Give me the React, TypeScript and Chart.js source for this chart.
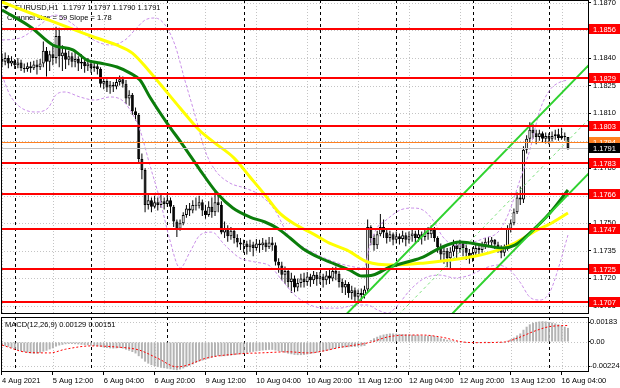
import React, { useEffect, useRef } from 'react';
import { Chart, registerables } from 'chart.js';
Chart.register(...registerables);

// ---------- DATA ----------
const firstOpen = 1.18395;
const closes = [
  1.18380, 1.18400, 1.18370, 1.18385, 1.18360, 1.18375, 1.18345, 1.18340, 1.18355, 1.18345,
  1.18365, 1.18350, 1.18370, 1.18440, 1.18380, 1.18420, 1.18400, 1.18520, 1.18410, 1.18430,
  1.18390, 1.18410, 1.18380, 1.18395, 1.18370, 1.18380, 1.18355, 1.18370, 1.18345, 1.18355,
  1.18340, 1.18260, 1.18275, 1.18240, 1.18255, 1.18245, 1.18270, 1.18285, 1.18260, 1.18180,
  1.18200, 1.18110, 1.18090, 1.17850, 1.17790, 1.17600, 1.17625, 1.17590, 1.17615, 1.17600,
  1.17620, 1.17605, 1.17625, 1.17590, 1.17510, 1.17470, 1.17500, 1.17545, 1.17580, 1.17570,
  1.17600, 1.17595, 1.17615, 1.17570, 1.17545, 1.17590, 1.17560, 1.17615, 1.17600, 1.17450,
  1.17470, 1.17430, 1.17460, 1.17420, 1.17395, 1.17385, 1.17390, 1.17370, 1.17385, 1.17365,
  1.17390, 1.17380, 1.17395, 1.17370, 1.17395, 1.17380, 1.17290, 1.17270, 1.17220, 1.17240,
  1.17180, 1.17200, 1.17150, 1.17175, 1.17200, 1.17180, 1.17210, 1.17190, 1.17220, 1.17195,
  1.17210, 1.17190, 1.17215, 1.17200, 1.17240, 1.17225, 1.17180, 1.17150, 1.17170, 1.17120,
  1.17135, 1.17100, 1.17120, 1.17110, 1.17140, 1.17480, 1.17420, 1.17380, 1.17440, 1.17480,
  1.17450, 1.17420, 1.17440, 1.17410, 1.17430, 1.17415, 1.17435, 1.17410, 1.17430, 1.17445,
  1.17420, 1.17440, 1.17425, 1.17450, 1.17440, 1.17465, 1.17420, 1.17370, 1.17330, 1.17350,
  1.17310, 1.17345, 1.17380, 1.17360, 1.17390, 1.17365, 1.17340, 1.17310, 1.17340, 1.17365,
  1.17355, 1.17380, 1.17400, 1.17395, 1.17410, 1.17385, 1.17370, 1.17340, 1.17365, 1.17470,
  1.17500, 1.17560, 1.17640, 1.17630, 1.17900, 1.17960, 1.18010, 1.17990, 1.17970, 1.17990,
  1.17960, 1.17975, 1.17960, 1.17975, 1.17985, 1.17965, 1.17975, 1.17970, 1.17910,
];
const highs = [
  1.18425, 1.18430, 1.18415, 1.18410, 1.18395, 1.18400, 1.18390, 1.18370, 1.18375, 1.18380,
  1.18385, 1.18390, 1.18395, 1.18490, 1.18460, 1.18440, 1.18470, 1.18570, 1.18565, 1.18470,
  1.18450, 1.18440, 1.18430, 1.18440, 1.18410, 1.18420, 1.18395, 1.18400, 1.18385, 1.18380,
  1.18370, 1.18350, 1.18295, 1.18285, 1.18275, 1.18270, 1.18290, 1.18305, 1.18300, 1.18280,
  1.18225, 1.18210, 1.18130, 1.18100, 1.17880, 1.17800, 1.17660, 1.17640, 1.17650, 1.17640,
  1.17655, 1.17640, 1.17660, 1.17640, 1.17600, 1.17520, 1.17520, 1.17560, 1.17600, 1.17610,
  1.17625, 1.17640, 1.17650, 1.17630, 1.17600, 1.17620, 1.17640, 1.17680, 1.17660, 1.17620,
  1.17510, 1.17490, 1.17480, 1.17470, 1.17440, 1.17420, 1.17410, 1.17405, 1.17410, 1.17400,
  1.17415, 1.17410, 1.17420, 1.17410, 1.17425, 1.17425, 1.17395, 1.17310, 1.17290, 1.17265,
  1.17255, 1.17230, 1.17215, 1.17200, 1.17225, 1.17230, 1.17235, 1.17225, 1.17240, 1.17235,
  1.17235, 1.17225, 1.17240, 1.17245, 1.17260, 1.17265, 1.17240, 1.17200, 1.17190, 1.17180,
  1.17160, 1.17150, 1.17140, 1.17145, 1.17160, 1.17520, 1.17490, 1.17440, 1.17460, 1.17550,
  1.17520, 1.17470, 1.17460, 1.17450, 1.17455, 1.17445, 1.17460, 1.17450, 1.17455, 1.17470,
  1.17460, 1.17465, 1.17455, 1.17470, 1.17480, 1.17490, 1.17480, 1.17430, 1.17390, 1.17380,
  1.17365, 1.17370, 1.17410, 1.17400, 1.17410, 1.17400, 1.17385, 1.17360, 1.17370, 1.17385,
  1.17390, 1.17400, 1.17420, 1.17425, 1.17425, 1.17415, 1.17400, 1.17380, 1.17385, 1.17490,
  1.17520, 1.17580, 1.17670, 1.17700, 1.17920, 1.17980, 1.18050, 1.18040, 1.18010, 1.18010,
  1.18000, 1.17995, 1.17990, 1.18000, 1.18010, 1.18015, 1.18020, 1.17995, 1.17970,
];
const lows = [
  1.18350, 1.18360, 1.18345, 1.18355, 1.18340, 1.18345, 1.18330, 1.18320, 1.18325, 1.18320,
  1.18335, 1.18310, 1.18335, 1.18350, 1.18300, 1.18330, 1.18360, 1.18370, 1.18350, 1.18330,
  1.18340, 1.18360, 1.18350, 1.18350, 1.18330, 1.18340, 1.18320, 1.18330, 1.18320, 1.18325,
  1.18310, 1.18240, 1.18230, 1.18215, 1.18205, 1.18215, 1.18230, 1.18250, 1.18240, 1.18150,
  1.18140, 1.18090, 1.18060, 1.17830, 1.17740, 1.17560, 1.17575, 1.17560, 1.17580, 1.17570,
  1.17585, 1.17575, 1.17590, 1.17555, 1.17480, 1.17425, 1.17460, 1.17490, 1.17530, 1.17540,
  1.17555, 1.17570, 1.17580, 1.17540, 1.17525, 1.17535, 1.17530, 1.17540, 1.17560, 1.17440,
  1.17420, 1.17400, 1.17410, 1.17390, 1.17370, 1.17355, 1.17340, 1.17330, 1.17345, 1.17320,
  1.17350, 1.17340, 1.17355, 1.17345, 1.17360, 1.17350, 1.17270, 1.17230, 1.17190, 1.17170,
  1.17150, 1.17120, 1.17125, 1.17130, 1.17150, 1.17150, 1.17160, 1.17155, 1.17170, 1.17160,
  1.17170, 1.17150, 1.17165, 1.17170, 1.17185, 1.17190, 1.17150, 1.17120, 1.17110, 1.17095,
  1.17085, 1.17070, 1.17060, 1.17075, 1.17090, 1.17125, 1.17380, 1.17350, 1.17360, 1.17430,
  1.17420, 1.17390, 1.17400, 1.17380, 1.17390, 1.17385, 1.17395, 1.17375, 1.17390, 1.17400,
  1.17390, 1.17400, 1.17385, 1.17405, 1.17410, 1.17420, 1.17400, 1.17340, 1.17300, 1.17280,
  1.17260, 1.17250, 1.17320, 1.17310, 1.17340, 1.17320, 1.17300, 1.17280, 1.17290, 1.17320,
  1.17330, 1.17340, 1.17360, 1.17370, 1.17370, 1.17360, 1.17340, 1.17310, 1.17320, 1.17350,
  1.17450, 1.17490, 1.17550, 1.17600, 1.17610, 1.17880, 1.17940, 1.17960, 1.17930, 1.17950,
  1.17940, 1.17935, 1.17930, 1.17945, 1.17955, 1.17950, 1.17955, 1.17950, 1.17900,
];

// moving averages (bar position, price)
const yellowBars = [0, 13, 28, 36, 41, 46, 50, 56, 62, 67, 73, 78, 83, 87, 92, 98, 103, 108.5, 115, 123, 132.4, 141, 149, 156, 161.3, 168.2, 172.3, 178];
const yellowVals = [1.18705, 1.18618, 1.18520, 1.18471, 1.18427, 1.18335, 1.18253, 1.18128, 1.18008, 1.17937, 1.17855, 1.17752, 1.17648, 1.17561, 1.17496, 1.17441, 1.17392, 1.17354, 1.17289, 1.17273, 1.17283, 1.17300, 1.17322, 1.17354, 1.17392, 1.17463, 1.17496, 1.17556];
const greenBars = [0, 9, 16, 22.3, 26.7, 30.8, 36.2, 40.3, 43.4, 46.5, 51.9, 56.9, 62.3, 67.6, 72.6, 78, 82.7, 86.5, 90.6, 95.3, 100, 104.7, 109.4, 113.2, 116.7, 122, 127.4, 132.4, 137.7, 144, 151.3, 157.5, 161.3, 166, 172.3, 178];
const greenVals = [1.18662, 1.18569, 1.18471, 1.18444, 1.18389, 1.18373, 1.18351, 1.18318, 1.18280, 1.18188, 1.18046, 1.17926, 1.17790, 1.17665, 1.17583, 1.17534, 1.17507, 1.17474, 1.17420, 1.17354, 1.17311, 1.17278, 1.17245, 1.17213, 1.17218, 1.17262, 1.17289, 1.17316, 1.17365, 1.17398, 1.17381, 1.17365, 1.17381, 1.17447, 1.17556, 1.17681];

// Bollinger envelope
const bbUpBars = [0, 5.7, 11.9, 16.7, 21.4, 27.7, 34, 38.7, 41.8, 45, 48.1, 51.3, 54.4, 57.5, 60.7, 63.8, 67, 71.7, 76.4, 81.1, 85.8, 90.6, 95.3, 100, 104.7, 109.4, 113.8, 115.7, 117.9, 120.4, 125.2, 129.2, 132.4, 135.5, 138.7, 142.5, 147.2, 151.9, 156, 159.1, 162.9, 166, 169.2, 172.3, 175.5, 178];
const bbUpVals = [1.18498, 1.18509, 1.18580, 1.18634, 1.18596, 1.18509, 1.18471, 1.18498, 1.18553, 1.18607, 1.18618, 1.18580, 1.18471, 1.18280, 1.18090, 1.17899, 1.17790, 1.17719, 1.17692, 1.17654, 1.17572, 1.17420, 1.17365, 1.17322, 1.17289, 1.17267, 1.17256, 1.17381, 1.17474, 1.17512, 1.17572, 1.17583, 1.17572, 1.17518, 1.17425, 1.17381, 1.17392, 1.17420, 1.17452, 1.17545, 1.17736, 1.17899, 1.18117, 1.18226, 1.18269, 1.18280];
const bbLoBars = [0, 2.5, 5.7, 10.4, 14.5, 17, 19.8, 24.5, 29.2, 34, 37.7, 40.3, 43.4, 46.5, 49.7, 52.8, 56, 59.1, 62.3, 66, 70.1, 74.8, 79.6, 84.3, 88, 92.1, 96.9, 101.6, 106.3, 111, 115, 118.2, 121.4, 124.5, 128.3, 133, 137.7, 142.5, 147.2, 151.9, 156, 159.7, 162.9, 166, 169.2, 172.3, 174.8, 178];
const bbLoVals = [1.18307, 1.18199, 1.18133, 1.18106, 1.18128, 1.18200, 1.18215, 1.18188, 1.18171, 1.18188, 1.18171, 1.18117, 1.18008, 1.17817, 1.17627, 1.17409, 1.17256, 1.17343, 1.17436, 1.17452, 1.17381, 1.17311, 1.17289, 1.17267, 1.17191, 1.17109, 1.17055, 1.17038, 1.17038, 1.17055, 1.17055, 1.17027, 1.17011, 1.17055, 1.17136, 1.17202, 1.17218, 1.17202, 1.17218, 1.17256, 1.17273, 1.17245, 1.17180, 1.17098, 1.17082, 1.17125, 1.17245, 1.17436];

// regression channel (endpoints)
const channelBars = [105, 185];
const upperChannel = [1.16946, 1.18370];
const middleChannel = [1.16651, 1.18075];
const lowerChannel = [1.16356, 1.17780];

// levels
const redLevels = [1.1856, 1.1829, 1.1803, 1.1783, 1.1766, 1.1747, 1.1725, 1.1707];
const orangeLevel = 1.1794;
const bidLevel = 1.1791;
const priceTicks = [1.1870, 1.1855, 1.1840, 1.1825, 1.1810, 1.1795, 1.1780, 1.1765, 1.1750, 1.1735, 1.1720, 1.1705];

// MACD
const macdHist = [
  -0.00030, -0.00038, -0.00045, -0.00055, -0.00065, -0.00075, -0.00085, -0.00092, -0.00098, -0.00105,
  -0.00108, -0.00105, -0.00100, -0.00088, -0.00080, -0.00068, -0.00058, -0.00042, -0.00032, -0.00026,
  -0.00020, -0.00018, -0.00018, -0.00020, -0.00022, -0.00025, -0.00028, -0.00030, -0.00033, -0.00036,
  -0.00038, -0.00045, -0.00050, -0.00055, -0.00058, -0.00060, -0.00058, -0.00055, -0.00060, -0.00070,
  -0.00080, -0.00092, -0.00105, -0.00130, -0.00152, -0.00180, -0.00198, -0.00212, -0.00222, -0.00230,
  -0.00236, -0.00240, -0.00245, -0.00250, -0.00255, -0.00258, -0.00252, -0.00242, -0.00230, -0.00218,
  -0.00205, -0.00192, -0.00180, -0.00170, -0.00162, -0.00152, -0.00143, -0.00134, -0.00128, -0.00132,
  -0.00130, -0.00128, -0.00124, -0.00120, -0.00116, -0.00112, -0.00106, -0.00100, -0.00095, -0.00090,
  -0.00086, -0.00082, -0.00078, -0.00075, -0.00072, -0.00072, -0.00078, -0.00084, -0.00092, -0.00098,
  -0.00106, -0.00112, -0.00118, -0.00120, -0.00120, -0.00118, -0.00114, -0.00110, -0.00104, -0.00098,
  -0.00092, -0.00087, -0.00082, -0.00075, -0.00066, -0.00058, -0.00054, -0.00052, -0.00050, -0.00048,
  -0.00046, -0.00044, -0.00042, -0.00040, -0.00036, -0.00005, 0.00018, 0.00034, 0.00048, 0.00060,
  0.00068, 0.00074, 0.00078, 0.00078, 0.00076, 0.00074, 0.00072, 0.00070, 0.00068, 0.00066,
  0.00064, 0.00062, 0.00060, 0.00058, 0.00058, 0.00060, 0.00055, 0.00045, 0.00035, 0.00028,
  0.00020, 0.00015, 0.00012, 0.00008, 0.00006, 0.00002, -0.00002, -0.00006, -0.00006, -0.00004,
  -0.00002, 0.00000, 0.00002, 0.00004, 0.00006, 0.00005, 0.00002, -0.00002, -0.00001, 0.00012,
  0.00025, 0.00040, 0.00060, 0.00078, 0.00112, 0.00140, 0.00162, 0.00176, 0.00184, 0.00188,
  0.00190, 0.00188, 0.00184, 0.00178, 0.00170, 0.00162, 0.00152, 0.00140, 0.00129,
];
const signalBars = [0, 8, 15, 20, 28, 36, 43, 49, 55, 58, 64, 73, 83, 90, 96, 107, 116, 121, 126, 132, 139, 144, 149, 158, 162, 168, 172, 176, 178];
const signalVals = [-0.00028, -0.00095, -0.00100, -0.00066, -0.00036, -0.00046, -0.00073, -0.00150, -0.00228, -0.00215, -0.00150, -0.00112, -0.00098, -0.00090, -0.00100, -0.00046, -0.00002, 0.00044, 0.00062, 0.00064, 0.00040, 0.00004, -0.00006, 0.00000, 0.00035, 0.00105, 0.00140, 0.00150, 0.00151];
const macdTicks = [0.00183, 0, -0.00224];
const macdTickLabels = ['0.00183', '0.00', '-0.00224'];

// time axis
const timeTickBars = [0, 16, 32, 48, 64, 80, 96, 112, 128, 144, 160, 176];
const timeLabels = ['4 Aug 2021', '5 Aug 12:00', '6 Aug 04:00', '6 Aug 20:00', '9 Aug 12:00', '10 Aug 04:00', '10 Aug 20:00', '11 Aug 12:00', '12 Aug 04:00', '12 Aug 20:00', '13 Aug 12:00', '16 Aug 04:00'];
const daySeparatorBars = [4, 28, 52, 76, 100, 124, 148, 172];

const headerText = 'EURUSD,H1  1.1797 1.1797 1.1790 1.1791';
const channelText = 'Channel size = 59 Slope = 1.78';
const macdText = 'MACD(12,26,9) 0.00129 0.00151';

// ---------- HELPERS ----------
const FONT = '"Liberation Sans", Arial, sans-serif';
const X_MIN = -0.31;
const X_MAX = 184.3;
const pts = (xs: number[], ys: number[]) => xs.map((x, i) => ({ x, y: ys[i] }));

function gridPlugin(hTicks: number[]) {
  return {
    id: 'mtGrid',
    beforeDatasetsDraw(chart: any) {
      const { ctx, chartArea: a, scales } = chart;
      const x = scales.x, y = scales.y;
      ctx.save();
      ctx.lineWidth = 1;
      ctx.strokeStyle = '#c4c4c4';
      ctx.setLineDash([1, 2]);
      hTicks.forEach((v) => {
        const py = Math.round(y.getPixelForValue(v)) + 0.5;
        ctx.beginPath(); ctx.moveTo(a.left, py); ctx.lineTo(a.right, py); ctx.stroke();
      });
      timeTickBars.forEach((b) => {
        const px = Math.round(x.getPixelForValue(b)) + 0.5;
        ctx.beginPath(); ctx.moveTo(px, a.top); ctx.lineTo(px, a.bottom); ctx.stroke();
      });
      ctx.strokeStyle = '#000';
      ctx.setLineDash([3, 3]);
      daySeparatorBars.forEach((b) => {
        const px = Math.round(x.getPixelForValue(b)) + 0.5;
        ctx.beginPath(); ctx.moveTo(px, a.top); ctx.lineTo(px, a.bottom); ctx.stroke();
      });
      ctx.restore();
    },
    afterDraw(chart: any) {
      const { ctx, chartArea: a } = chart;
      ctx.save();
      ctx.strokeStyle = '#000';
      ctx.lineWidth = 1;
      ctx.setLineDash([]);
      ctx.strokeRect(a.left + 0.5, a.top + 0.5, a.right - a.left, a.bottom - a.top - 1);
      ctx.restore();
    },
  };
}

const levelPlugin = {
  id: 'levels',
  beforeDatasetsDraw(chart: any) {
    const { ctx } = chart;
    ctx.save();
    ctx.fillStyle = '#000';
    ctx.font = `7.5px ${FONT}`;
    ctx.textBaseline = 'middle';
    ctx.textAlign = 'left';
    ctx.fillText(headerText, 15, 8);
    ctx.fillText(channelText, 7, 18);
    ctx.beginPath(); ctx.moveTo(3, 6); ctx.lineTo(9, 6); ctx.lineTo(6, 9.5); ctx.closePath(); ctx.fill();
    ctx.restore();
  },
  afterDatasetsDraw(chart: any) {
    const { ctx, chartArea: a, scales } = chart;
    const y = scales.y;
    ctx.save();
    const hline = (v: number, color: string, w: number) => {
      const py = Math.round(y.getPixelForValue(v));
      ctx.fillStyle = color;
      ctx.fillRect(a.left, py - (w > 1 ? 1 : 0), a.right - a.left, w);
    };
    hline(bidLevel, '#c0c0c0', 1);
    hline(orangeLevel, '#ff8020', 1);
    redLevels.forEach((v) => hline(v, '#ff0000', 2));
    ctx.restore();
  },
  afterDraw(chart: any) {
    const { ctx, chartArea: a, scales } = chart;
    const y = scales.y;
    ctx.save();
    ctx.font = `7.5px ${FONT}`;
    ctx.textBaseline = 'middle';
    ctx.textAlign = 'left';
    const box = (v: number, bg: string, fg: string) => {
      const py = Math.round(y.getPixelForValue(v));
      ctx.fillStyle = bg;
      ctx.fillRect(a.right + 1, py - 5, 620 - a.right - 1, 10);
      ctx.fillStyle = fg;
      ctx.fillText(v.toFixed(4), a.right + 5, py + 0.5);
    };
    box(orangeLevel, '#ff8020', '#fff');
    redLevels.forEach((v) => box(v, '#ff0000', '#fff'));
    box(bidLevel, '#000', '#fff');
    ctx.restore();
  },
};

const macdTextPlugin = {
  id: 'macdText',
  beforeDatasetsDraw(chart: any) {
    const { ctx } = chart;
    ctx.save();
    ctx.fillStyle = '#000';
    ctx.font = `7.5px ${FONT}`;
    ctx.textBaseline = 'middle';
    ctx.fillText(macdText, 5, 9);
    ctx.restore();
  },
};

export default function App() {
  const mainRef = useRef<HTMLCanvasElement>(null);
  const macdRef = useRef<HTMLCanvasElement>(null);

  useEffect(() => {
    document.body.style.margin = '0';
    Chart.defaults.font.family = FONT;
    Chart.defaults.font.size = 7.5;
    Chart.defaults.color = '#000';

    const opens = closes.map((c, i) => (i === 0 ? firstOpen : closes[i - 1]));

    const xScale = (showTicks: boolean) => ({
      type: 'linear',
      min: X_MIN,
      max: X_MAX,
      offset: false,
      bounds: 'data',
      grid: showTicks
        ? { drawOnChartArea: false, drawTicks: true, tickLength: 3, tickColor: '#000', tickBorderDash: [], offset: false }
        : { display: false, drawTicks: false, offset: false },
      border: { display: false },
      afterBuildTicks: (s: any) => {
        s.ticks = timeTickBars.map((v) => ({ value: v }));
      },
      afterFit: (s: any) => {
        s.height = showTicks ? 16 : 2;
        s.paddingLeft = 0;
        s.paddingRight = 0;
      },
      ticks: showTicks
        ? {
            display: true,
            autoSkip: false,
            maxRotation: 0,
            minRotation: 0,
            align: 'start',
            padding: 1,
            color: '#000',
            font: { size: 7.5, family: FONT },
            callback: (v: any) => timeLabels[timeTickBars.indexOf(Number(v))] ?? '',
          }
        : { display: false },
    });

    const main = new Chart(mainRef.current!, {
      type: 'bar',
      data: {
        datasets: [
          {
            type: 'line',
            label: 'upper channel',
            data: pts(channelBars, upperChannel),
            borderColor: '#2fd22f',
            borderWidth: 2,
            pointRadius: 0,
            order: 1,
          },
          {
            type: 'line',
            label: 'lower channel',
            data: pts(channelBars, lowerChannel),
            borderColor: '#2fd22f',
            borderWidth: 2,
            pointRadius: 0,
            order: 1,
          },
          {
            type: 'line',
            label: 'middle channel',
            data: pts(channelBars, middleChannel),
            borderColor: '#7ee07e',
            borderWidth: 1,
            borderDash: [3, 3],
            pointRadius: 0,
            order: 1,
          },
          {
            type: 'line',
            label: 'MA green',
            data: pts(greenBars, greenVals),
            borderColor: '#0b7d0b',
            borderWidth: 3,
            pointRadius: 0,
            cubicInterpolationMode: 'monotone',
            order: 2,
          },
          {
            type: 'line',
            label: 'MA yellow',
            data: pts(yellowBars, yellowVals),
            borderColor: '#ffff00',
            borderWidth: 3,
            pointRadius: 0,
            cubicInterpolationMode: 'monotone',
            order: 3,
          },
          {
            type: 'line',
            label: 'BB upper',
            data: pts(bbUpBars, bbUpVals),
            borderColor: '#c98fe8',
            borderWidth: 1,
            borderDash: [3, 2],
            pointRadius: 0,
            cubicInterpolationMode: 'monotone',
            order: 4,
          },
          {
            type: 'line',
            label: 'BB lower',
            data: pts(bbLoBars, bbLoVals),
            borderColor: '#c98fe8',
            borderWidth: 1,
            borderDash: [3, 2],
            pointRadius: 0,
            cubicInterpolationMode: 'monotone',
            order: 4,
          },
          {
            type: 'bar',
            label: 'body',
            data: closes.map((c, i) => ({ x: i, y: [opens[i], c] })),
            backgroundColor: closes.map((c, i) => (c >= opens[i] ? '#ffffff' : '#000000')),
            borderColor: '#000',
            borderWidth: 1,
            borderSkipped: false,
            barThickness: 3,
            minBarLength: 1,
            grouped: false,
            inflateAmount: 0,
            order: 5,
          },
          {
            type: 'bar',
            label: 'wick',
            data: highs.map((h, i) => ({ x: i, y: [lows[i], h] })),
            backgroundColor: '#000',
            borderWidth: 0,
            barThickness: 1,
            grouped: false,
            inflateAmount: 0,
            order: 6,
          },
        ] as any,
      },
      options: {
        animation: false,
        responsive: false,
        events: [],
        layout: { padding: { left: 1, top: 0, right: 0, bottom: 0 } },
        plugins: { legend: { display: false }, tooltip: { enabled: false } },
        scales: {
          x: xScale(false) as any,
          y: {
            type: 'linear',
            position: 'right',
            min: 1.17006,
            max: 1.18716,
            bounds: 'data',
            border: { display: false },
            grid: { drawOnChartArea: false, drawTicks: true, tickLength: 3, tickColor: '#000', tickBorderDash: [] },
            afterBuildTicks: (s: any) => {
              s.ticks = priceTicks.map((v) => ({ value: v }));
            },
            afterFit: (s: any) => {
              s.width = 32;
              s.paddingTop = 0;
              s.paddingBottom = 0;
            },
            ticks: {
              padding: 2,
              color: '#000',
              font: { size: 7.5, family: FONT },
              callback: (v: any) => Number(v).toFixed(4),
            },
          } as any,
        },
      },
      plugins: [gridPlugin(priceTicks), levelPlugin],
    });

    const macd = new Chart(macdRef.current!, {
      type: 'bar',
      data: {
        datasets: [
          {
            type: 'line',
            label: 'signal',
            data: pts(signalBars, signalVals),
            borderColor: '#ff0000',
            borderWidth: 1,
            borderDash: [2, 2],
            pointRadius: 0,
            cubicInterpolationMode: 'monotone',
            order: 1,
          },
          {
            type: 'bar',
            label: 'MACD',
            data: macdHist.map((v, i) => ({ x: i, y: v })),
            backgroundColor: '#b4b4b4',
            borderWidth: 0,
            barThickness: 2,
            grouped: false,
            inflateAmount: 0,
            order: 2,
          },
        ] as any,
      },
      options: {
        animation: false,
        responsive: false,
        events: [],
        layout: { padding: { left: 1, top: 1, right: 0, bottom: 0 } },
        plugins: { legend: { display: false }, tooltip: { enabled: false } },
        scales: {
          x: xScale(true) as any,
          y: {
            type: 'linear',
            position: 'right',
            min: -0.00275,
            max: 0.00229,
            bounds: 'data',
            border: { display: false },
            grid: { drawOnChartArea: false, drawTicks: true, tickLength: 2, tickColor: '#000', tickBorderDash: [] },
            afterBuildTicks: (s: any) => {
              s.ticks = macdTicks.map((v) => ({ value: v }));
            },
            afterFit: (s: any) => {
              s.width = 32;
              s.paddingTop = 0;
              s.paddingBottom = 0;
            },
            ticks: {
              padding: 0,
              color: '#000',
              font: { size: 7.5, family: FONT },
              callback: (v: any) => macdTickLabels[macdTicks.indexOf(Number(v))] ?? '',
            },
          } as any,
        },
      },
      plugins: [gridPlugin(macdTicks), macdTextPlugin],
    });

    return () => {
      main.destroy();
      macd.destroy();
    };
  }, []);

  return (
    <div style={{ position: 'absolute', left: 0, top: 0, width: 620, height: 388, background: '#fff', overflow: 'hidden' }}>
      <canvas ref={mainRef} width={620} height={316} style={{ position: 'absolute', left: 0, top: 0, display: 'block' }} />
      <canvas ref={macdRef} width={620} height={72} style={{ position: 'absolute', left: 0, top: 316, display: 'block' }} />
    </div>
  );
}
